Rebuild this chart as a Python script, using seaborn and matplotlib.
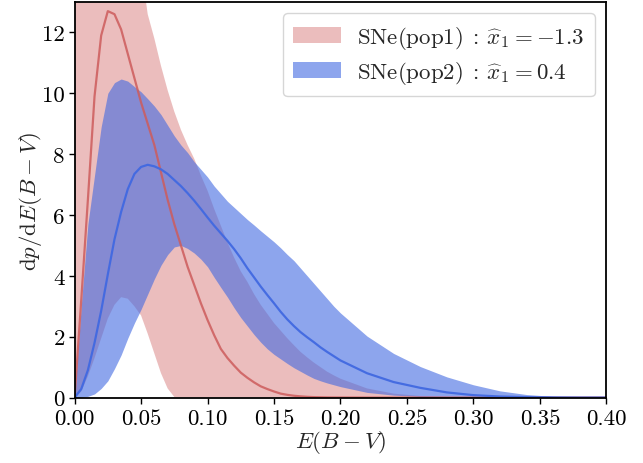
import numpy as np
import pandas as pd
import seaborn as sns
import matplotlib
matplotlib.use("Agg")
import matplotlib.pyplot as plt

# ---- data ----
ebv = [0.000, 0.005, 0.010, 0.015, 0.020, 0.025, 0.030, 0.035, 0.040, 0.045,
       0.050, 0.055, 0.060, 0.065, 0.070, 0.075, 0.080, 0.085, 0.090, 0.095,
       0.100, 0.105, 0.110, 0.115, 0.120, 0.125, 0.130, 0.135, 0.140, 0.145,
       0.150, 0.155, 0.160, 0.165, 0.170, 0.175, 0.180, 0.185, 0.190, 0.195,
       0.200, 0.220, 0.240, 0.260, 0.280, 0.300, 0.320, 0.340, 0.360, 0.380,
       0.400]

pop1_med = [0.0, 3.2, 6.5, 9.9, 11.9, 12.7, 12.6, 12.1, 11.3, 10.5,
            9.7, 9.0, 8.3, 7.4, 6.5, 5.7, 5.0, 4.3, 3.7, 3.1,
            2.55, 2.05, 1.6, 1.3, 1.05, 0.82, 0.65, 0.5, 0.37, 0.28,
            0.2, 0.13, 0.09, 0.06, 0.04, 0.025, 0.015, 0.01, 0.005, 0.003,
            0.002, 0.0, 0.0, 0.0, 0.0, 0.0, 0.0, 0.0, 0.0, 0.0,
            0.0]
pop1_lo = [0.0, 0.2, 0.7, 1.3, 1.95, 2.6, 3.05, 3.3, 3.25, 3.0,
           2.7, 2.1, 1.45, 0.8, 0.3, 0.02, 0.0, 0.0, 0.0, 0.0,
           0.0, 0.0, 0.0, 0.0, 0.0, 0.0, 0.0, 0.0, 0.0, 0.0,
           0.0, 0.0, 0.0, 0.0, 0.0, 0.0, 0.0, 0.0, 0.0, 0.0,
           0.0, 0.0, 0.0, 0.0, 0.0, 0.0, 0.0, 0.0, 0.0, 0.0,
           0.0]
pop1_hi = [60.0, 50.0, 42.0, 36.0, 31.0, 27.0, 23.5, 20.5, 18.0, 16.0,
           14.2, 12.6, 11.8, 10.9, 10.1, 9.4, 8.8, 8.3, 7.85, 7.3,
           6.8, 6.2, 5.65, 5.1, 4.6, 4.15, 3.8, 3.4, 3.05, 2.75,
           2.45, 2.2, 1.95, 1.72, 1.5, 1.32, 1.15, 1.0, 0.85, 0.73,
           0.62, 0.3, 0.13, 0.05, 0.02, 0.01, 0.0, 0.0, 0.0, 0.0,
           0.0]

pop2_med = [0.0, 0.28, 0.9, 1.8, 2.85, 4.05, 5.2, 6.1, 6.85, 7.35,
            7.58, 7.65, 7.6, 7.5, 7.35, 7.15, 6.95, 6.72, 6.47, 6.2,
            5.92, 5.65, 5.4, 5.15, 4.88, 4.58, 4.25, 3.95, 3.65, 3.37,
            3.1, 2.82, 2.57, 2.35, 2.15, 1.98, 1.82, 1.65, 1.5, 1.36,
            1.22, 0.8, 0.51, 0.32, 0.17, 0.08, 0.035, 0.015, 0.005, 0.0,
            0.0]
pop2_lo = [0.0, 0.01, 0.04, 0.12, 0.3, 0.55, 0.95, 1.4, 1.95, 2.45,
           2.9, 3.4, 3.9, 4.35, 4.7, 4.95, 5.0, 4.9, 4.75, 4.55,
           4.3, 3.95, 3.62, 3.3, 2.95, 2.63, 2.35, 2.07, 1.82, 1.6,
           1.42, 1.27, 1.12, 0.98, 0.86, 0.74, 0.63, 0.55, 0.48, 0.42,
           0.36, 0.17, 0.08, 0.035, 0.015, 0.005, 0.0, 0.0, 0.0, 0.0,
           0.0]
pop2_hi = [0.0, 3.0, 5.7, 7.3, 8.9, 10.0, 10.35, 10.47, 10.4, 10.22,
           10.05, 9.82, 9.58, 9.3, 8.95, 8.6, 8.3, 8.05, 7.75, 7.5,
           7.25, 6.95, 6.7, 6.45, 6.25, 6.05, 5.85, 5.67, 5.48, 5.3,
           5.12, 4.92, 4.7, 4.5, 4.25, 4.0, 3.75, 3.5, 3.25, 3.0,
           2.78, 2.02, 1.45, 1.02, 0.68, 0.42, 0.22, 0.1, 0.04, 0.01,
           0.0]

labels = [r"$\mathrm{SNe(pop1)}\;:\,\widehat{x}_1=-1.3$",
          r"$\mathrm{SNe(pop2)}\;:\,\widehat{x}_1=0.4$"]
x_ticks = [0.00, 0.05, 0.10, 0.15, 0.20, 0.25, 0.30, 0.35, 0.40]
y_ticks = [0, 2, 4, 6, 8, 10, 12]

df = pd.DataFrame({"ebv": ebv,
                   "m1": pop1_med, "l1": pop1_lo, "h1": pop1_hi,
                   "m2": pop2_med, "l2": pop2_lo, "h2": pop2_hi})

# ---- style ----
sns.set_style("ticks")
plt.rcParams["font.family"] = ["serif"]
plt.rcParams["font.serif"] = ["cmr10", "DejaVu Serif"]
plt.rcParams["mathtext.fontset"] = "cm"
plt.rcParams["axes.formatter.use_mathtext"] = True
plt.rcParams["axes.unicode_minus"] = False
plt.rcParams["axes.linewidth"] = 1.3
plt.rcParams["axes.edgecolor"] = "black"
plt.rcParams["xtick.color"] = "black"
plt.rcParams["ytick.color"] = "black"

fs = 16.5
fig = plt.figure(figsize=(6.43, 4.64), dpi=100)
ax = fig.add_axes([0.116, 0.141, 0.827, 0.8525])

c1 = "indianred"
c2 = "royalblue"

ax.fill_between(df["ebv"], df["l1"], df["h1"], color=c1, alpha=0.4,
                linewidth=0, label=labels[0])
sns.lineplot(data=df, x="ebv", y="m1", ax=ax, color=c1, alpha=0.85,
             linewidth=1.6, legend=False)
ax.fill_between(df["ebv"], df["l2"], df["h2"], color=c2, alpha=0.6,
                linewidth=0, label=labels[1])
sns.lineplot(data=df, x="ebv", y="m2", ax=ax, color=c2, alpha=0.95,
             linewidth=1.6, legend=False)

ax.set_xlim(0, 0.4)
ax.set_ylim(0, 13)
ax.set_xticks(x_ticks)
ax.set_xticklabels([f"{t:.2f}" for t in x_ticks])
ax.set_yticks(y_ticks)
ax.set_yticklabels([str(t) for t in y_ticks])
ax.tick_params(labelsize=fs, direction="out", length=4, width=1.0)
ax.tick_params(axis="x", pad=4)
ax.tick_params(axis="y", pad=3)
ax.set_xlabel(r"$E(B-V)$", fontsize=fs, labelpad=0)
ax.set_ylabel(r"$\mathrm{d}p/\mathrm{d}E(B-V)$", fontsize=fs, labelpad=-1)

ax.legend(loc="upper right", fontsize=fs, frameon=True, fancybox=True,
          framealpha=0.8, edgecolor="0.8", handlelength=2.1,
          handletextpad=0.7, borderpad=0.45, labelspacing=0.35)

fig.savefig("out.png", dpi=100)
